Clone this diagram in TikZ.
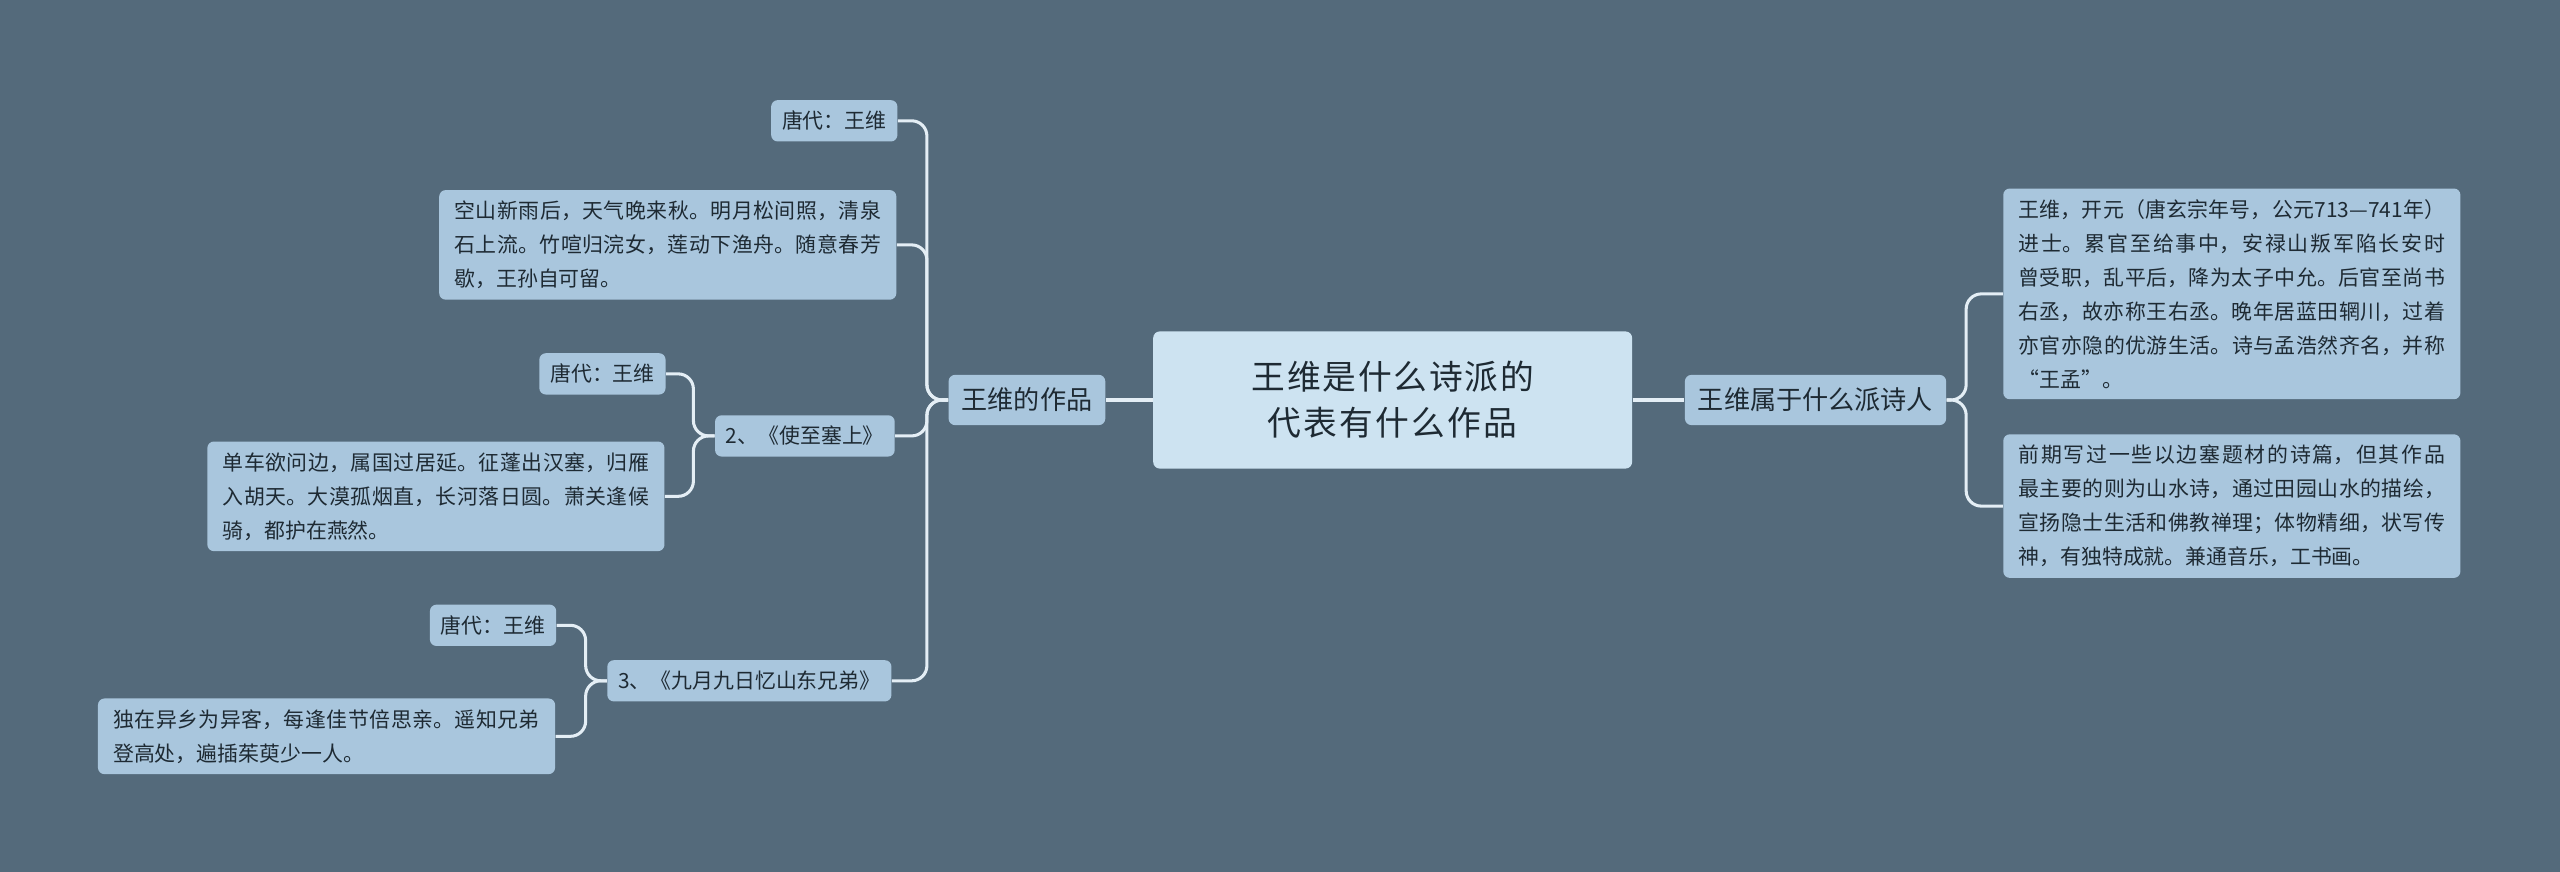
\documentclass[tikz,border=0pt]{standalone}
\usepackage{fontspec}
\setmainfont{Noto Sans CJK SC}
\XeTeXlinebreaklocale "zh"
\XeTeXlinebreakskip=0pt plus 1pt
\definecolor{bgc}{HTML}{546A7B}
\definecolor{boxc}{HTML}{A9C6DD}
\definecolor{rootc}{HTML}{CDE3F1}
\definecolor{linec}{HTML}{E4EEF5}
\definecolor{txtc}{HTML}{1E2A33}
\begin{document}
\begin{tikzpicture}[x=0.75pt, y=-0.75pt,
  leaf/.style = {fill=boxc, rounded corners=3pt, text=txtc, font=\fontsize{9.6}{15.6}\selectfont, inner sep=5pt},
  para/.style = {leaf, text width=196pt, align=justify, inner xsep=7pt},
  topic/.style = {fill=boxc, rounded corners=3pt, text=txtc, font=\fontsize{12}{14}\selectfont, inner sep=6pt},
  root/.style = {fill=rootc, rounded corners=3pt, text=txtc, font=\fontsize{15.5}{21}\selectfont, text width=180pt, align=center, minimum width=220pt, minimum height=63pt},
  link/.style = {draw=linec, line width=1.4pt, rounded corners=7pt}]
\fill[bgc] (0,0) rectangle (1568,534);
\node[root] (main) at (853,245) {王维是什么诗派的代表有什么作品};
\node[topic] (works) at (629,245) {王维的作品};
\node[topic] (school) at (1112,245) {王维属于什么派诗人};
% right side
\node[para] (bio) at (1367,180) {王维，开元（唐玄宗年号，公元713—741年）进士。累官至给事中，安禄山叛军陷长安时曾受职，乱平后，降为太子中允。后官至尚书右丞，故亦称王右丞。晚年居蓝田辋川，过着亦官亦隐的优游生活。诗与孟浩然齐名，并称“王孟”。};
\node[para] (style) at (1367,310) {前期写过一些以边塞题材的诗篇，但其作品最主要的则为山水诗，通过田园山水的描绘，宣扬隐士生活和佛教禅理；体物精细，状写传神，有独特成就。兼通音乐，工书画。};
% left side
\node[leaf] (a1) at (511,74) {唐代：王维};
\node[para] (p1) at (409,150) {空山新雨后，天气晚来秋。明月松间照，清泉石上流。竹喧归浣女，莲动下渔舟。随意春芳歇，王孙自可留。};
\node[leaf] (t2) at (493,267) {2、《使至塞上》};
\node[leaf] (a2) at (369,229) {唐代：王维};
\node[para] (p2) at (267,304) {单车欲问边，属国过居延。征蓬出汉塞，归雁入胡天。大漠孤烟直，长河落日圆。萧关逢候骑，都护在燕然。};
\node[leaf] (t3) at (459,417) {3、《九月九日忆山东兄弟》};
\node[leaf] (a3) at (302,383) {唐代：王维};
\node[para] (p3) at (200,451) {独在异乡为异客，每逢佳节倍思亲。遥知兄弟登高处，遍插茱萸少一人。};
\draw[link] (main) -- (works);
\draw[link] (main) -- (school);
\foreach \c in {bio, style}
  \draw[link] (school.east) -- ++(12,0) |- (\c.west);
\foreach \c in {a1, p1, t2, t3}
  \draw[link] (works.west) -- ++(-13,0) |- (\c.east);
\foreach \c in {a2, p2}
  \draw[link] (t2.west) -- ++(-13,0) |- (\c.east);
\foreach \c in {a3, p3}
  \draw[link] (t3.west) -- ++(-13,0) |- (\c.east);
\end{tikzpicture}
\end{document}
